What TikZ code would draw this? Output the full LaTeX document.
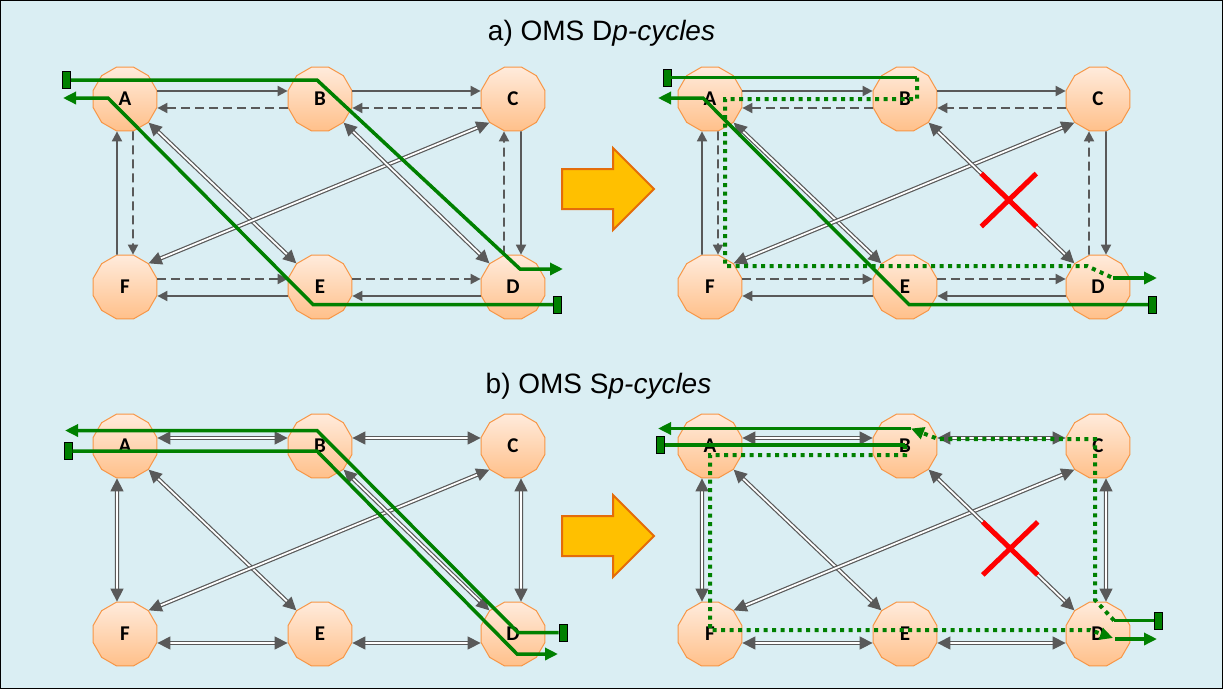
\documentclass[tikz,border=0pt]{standalone}
\usepackage{fontspec}
\setmainfont{Liberation Sans}
\newfontfamily\labelfont{Carlito}
\usetikzlibrary{arrows.meta,shapes.geometric,shapes.misc}
\definecolor{sky}{HTML}{DAEEF3}
\definecolor{wire}{HTML}{595959}
\definecolor{peach}{HTML}{FFEBDC}
\definecolor{apricot}{HTML}{FFC08A}
\definecolor{rim}{HTML}{F79646}
\definecolor{leaf}{HTML}{008000}
\definecolor{gold}{HTML}{FFC000}
\definecolor{rust}{HTML}{E46C0A}

\tikzset{
  site/.style={regular polygon, regular polygon sides=12, minimum size=66pt, inner sep=0pt,
    draw=rim, line width=1pt, top color=peach, bottom color=apricot,
    font=\labelfont\bfseries\fontsize{21}{21}\selectfont},
  link/.style={draw=wire, line width=1.8pt, -{Triangle[length=10pt,width=10pt]}},
  backup/.style={link, dash pattern=on 9pt off 5pt},
  duplex/.style={draw=wire, line width=1.2pt, double=white, double distance=1.8pt,
    {Triangle[length=13pt,width=13pt]}-{Triangle[length=13pt,width=13pt]}},
  work/.style={draw=leaf, line width=3.5pt},
  spare/.style={draw=leaf, line width=4pt, dash pattern=on 4pt off 4.5pt},
  tip/.style={-{Triangle[length=13pt,width=12pt]}},
  term/.style={rectangle, draw=black, fill=leaf, line width=0.8pt, minimum width=8pt,
    minimum height=17pt, inner sep=0pt},
  fail/.style={cross out, draw=red, line width=5pt, minimum width=50pt, minimum height=48pt,
    inner sep=0pt},
  heading/.style={font=\fontsize{28}{32}\selectfont, anchor=base},
  bigarrow/.style={fill=gold, draw=rust, line width=2pt}
}

\begin{document}
\begin{tikzpicture}[x=1pt,y=-1pt]
  \useasboundingbox (0,0) rectangle (1223,689);
  \fill[sky] (0,0) rectangle (1223,689);
  \draw[black,line width=1pt] (0.5,0.5) rectangle (1222.5,688.5);

  % titles
  \node[heading] (ta) at (601.5,40) {a) OMS D\textit{p-cycles}};
  \node[heading] (tb) at (598.5,393) {b) OMS S\textit{p-cycles}};

  % nodes of the four panels
  \foreach \p/\dx/\dy in {1/0/0,2/585/0,3/0/347,4/585/347}{
    \foreach \n/\x/\y in {A/125/99,B/320/99,C/513/99,F/125/287,E/320/287,D/513/287}
      \node[site] (\n\p) at (\x+\dx,\y+\dy) {\n};
  }

  % Dp-cycles: one link per direction
  \foreach \p in {1,2}{
    \draw[link] ([yshift=8pt]A\p.east) -- ([yshift=8pt]B\p.west);
    \draw[link] ([yshift=8pt]B\p.east) -- ([yshift=8pt]C\p.west);
    \draw[link] ([xshift=8pt]C\p.south) -- ([xshift=8pt]D\p.north);
    \draw[link] ([yshift=-9pt]D\p.west) -- ([yshift=-9pt]E\p.east);
    \draw[link] ([yshift=-9pt]E\p.west) -- ([yshift=-9pt]F\p.east);
    \draw[link] ([xshift=-8pt]F\p.north) -- ([xshift=-8pt]A\p.south);
    \draw[backup] ([yshift=-9pt]B\p.west) -- ([yshift=-9pt]A\p.east);
    \draw[backup] ([yshift=-9pt]C\p.west) -- ([yshift=-9pt]B\p.east);
    \draw[backup] ([xshift=-9pt]D\p.north) -- ([xshift=-9pt]C\p.south);
    \draw[backup] ([yshift=8pt]E\p.east) -- ([yshift=8pt]D\p.west);
    \draw[backup] ([yshift=8pt]F\p.east) -- ([yshift=8pt]E\p.west);
    \draw[backup] ([xshift=8pt]A\p.south) -- ([xshift=8pt]F\p.north);
    \draw[duplex] (A\p.south east) -- (E\p.north west);
    \draw[duplex] (F\p.north east) -- (C\p.south west);
  }
  \draw[duplex] (B1.south east) -- (D1.north west);
  \draw[duplex] (B2.south east) -- node[fail,pos=0.55] (x2) {} (D2.north west);

  % Sp-cycles: shared links
  \foreach \p in {3,4}{
    \draw[duplex] ([yshift=8pt]A\p.east) -- ([yshift=8pt]B\p.west);
    \draw[duplex] ([yshift=8pt]B\p.east) -- ([yshift=8pt]C\p.west);
    \draw[duplex] ([xshift=8pt]C\p.south) -- ([xshift=8pt]D\p.north);
    \draw[duplex] ([yshift=-9pt]D\p.west) -- ([yshift=-9pt]E\p.east);
    \draw[duplex] ([yshift=-9pt]E\p.west) -- ([yshift=-9pt]F\p.east);
    \draw[duplex] ([xshift=-8pt]F\p.north) -- ([xshift=-8pt]A\p.south);
    \draw[duplex] (A\p.south east) -- (E\p.north west);
    \draw[duplex] (F\p.north east) -- (C\p.south west);
  }
  \draw[duplex] (B3.south east) -- (D3.north west);
  \draw[duplex] (B4.south east) -- node[fail,pos=0.56] (x4) {} (D4.north west);

  % switch arrows
  \foreach \c in {189,536}
    \draw[bigarrow] (562,\c-20) -- (613,\c-20) -- (613,\c-41) -- (654,\c)
      -- (613,\c+41) -- (613,\c+20) -- (562,\c+20) -- cycle;

  % panel a, before
  \node[term] (s1a) at (66.5,80) {};
  \node[term] (s1b) at (557.5,304.5) {};
  \coordinate (e1a) at (563,269);
  \coordinate (e1b) at (63,98);
  \draw[work,tip] (s1a.east) -- (317,80) -- (520,269) -- (e1a);
  \draw[work,tip] (s1b.west) -- (313,304.5) -- (108,98) -- (e1b);

  % panel a, after
  \node[term] (s2a) at (667,77.5) {};
  \node[term] (s2b) at (1152.5,304.5) {};
  \coordinate (k2a) at (917,77.5);
  \coordinate (k2b) at (1113,278);
  \coordinate (e2a) at (1157,278);
  \coordinate (e2b) at (658,98);
  \draw[work] (s2a.east) -- (k2a);
  \draw[spare] (k2a) -- (917,99) -- (725,99) -- (725,266) -- (1087,266) -- (k2b);
  \draw[work,tip] (k2b) -- (e2a);
  \draw[work,tip] (s2b.west) -- (909,304.5) -- (703,98) -- (e2b);

  % panel b, before
  \node[term] (s3a) at (563,632.5) {};
  \node[term] (s3b) at (68,451) {};
  \coordinate (e3a) at (65,430.5);
  \coordinate (e3b) at (558,654);
  \draw[work,tip] (s3a.west) -- (518,632.5) -- (317,430.5) -- (e3a);
  \draw[work,tip] (s3b.east) -- (317,451) -- (517,654) -- (e3b);

  % panel b, after
  \node[term] (s4a) at (1158.5,620.5) {};
  \node[term] (s4b) at (660.5,445) {};
  \coordinate (k4a) at (1114,620.5);
  \coordinate (m4a) at (911,428.5);
  \coordinate (e4a) at (658,428.5);
  \coordinate (k4b) at (905,445);
  \coordinate (m4b) at (1113,638);
  \coordinate (n4b) at (1115,639);
  \coordinate (e4b) at (1157,639);
  \draw[work] (s4a.west) -- (k4a);
  \draw[spare,tip] (k4a) -- (1095,600) -- (1095,439) -- (938,439) -- (m4a);
  \draw[work,tip] (m4a) -- (e4a);
  \draw[work] (s4b.east) -- (k4b);
  \draw[spare,tip] (k4b) -- (905,455) -- (710,455) -- (710,630) -- (1090,630) -- (m4b);
  \draw[work,tip] (n4b) -- (e4b);
\end{tikzpicture}
\end{document}
